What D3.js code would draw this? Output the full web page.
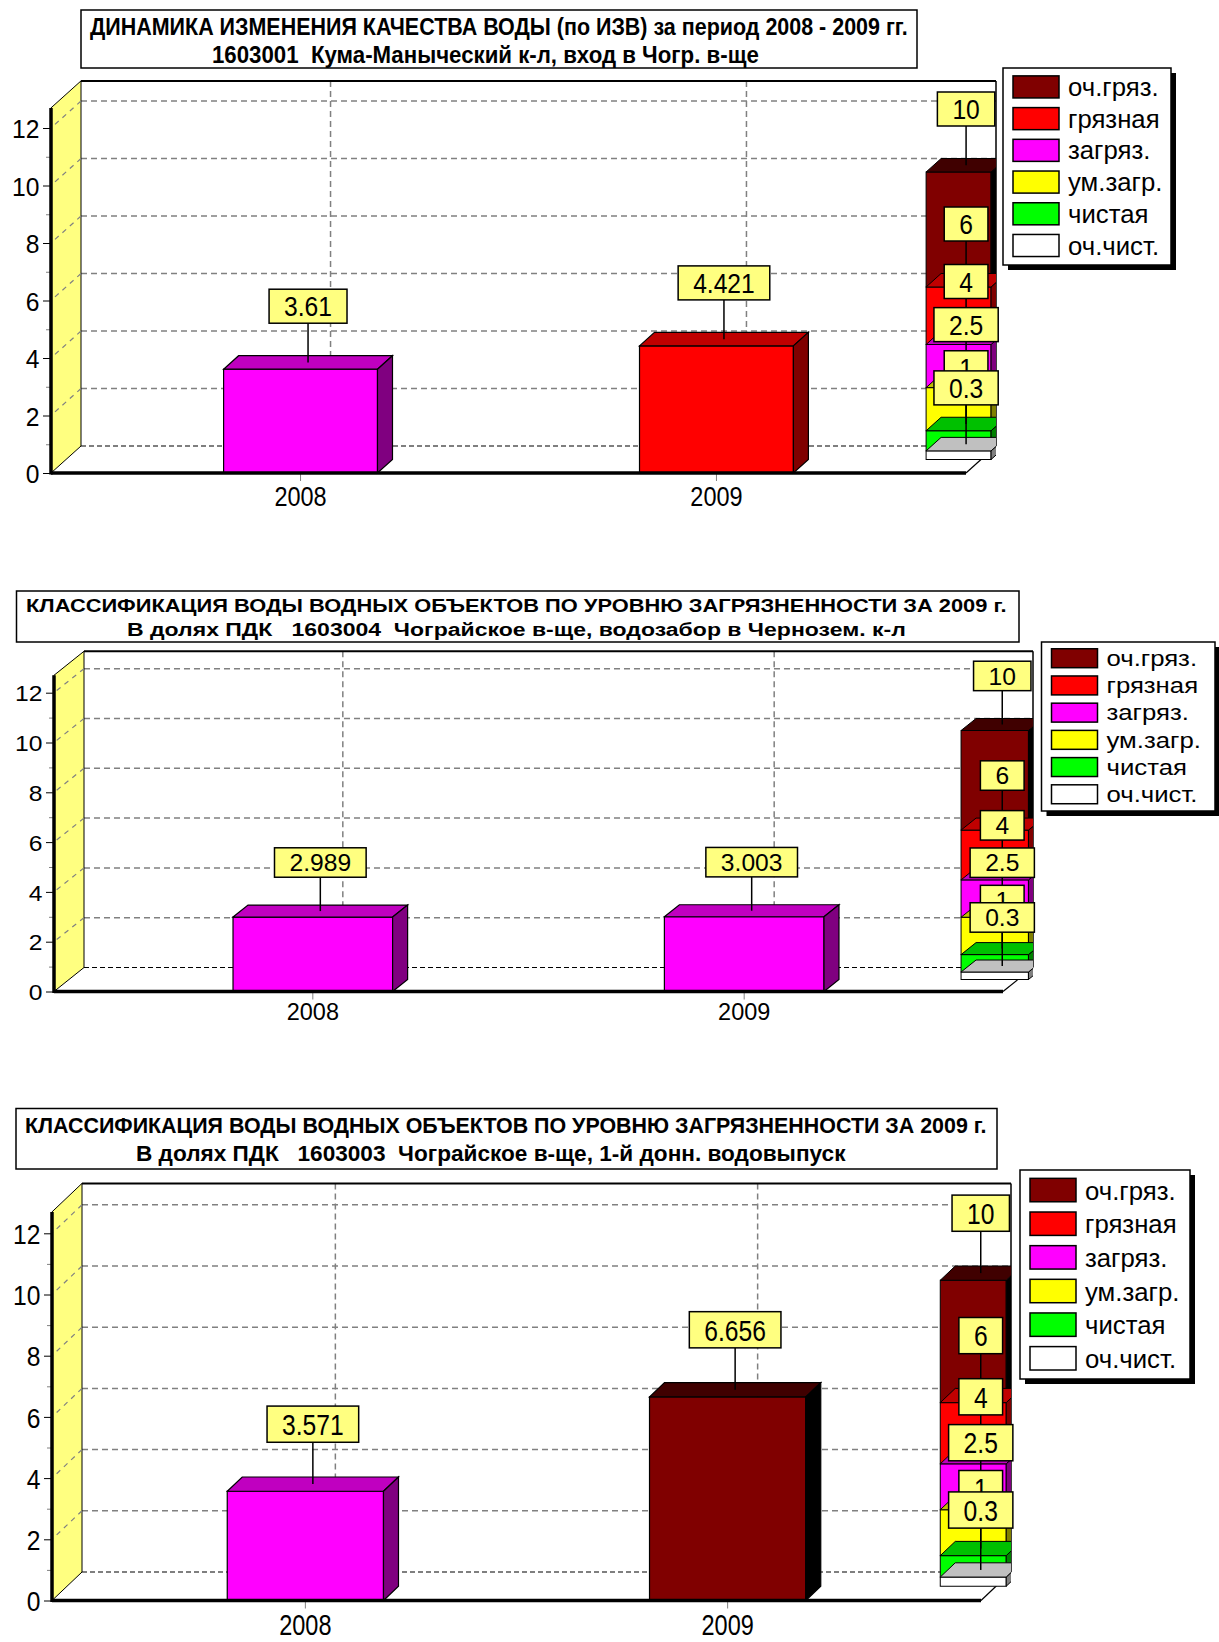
<!DOCTYPE html>
<html>
<head>
<meta charset="utf-8">
<script src="https://cdn.jsdelivr.net/npm/d3@7"></script>
<style>
  body { margin: 0; background: #fff; }
  svg { display: block; }
</style>
</head>
<body>
<svg id="chart" width="1219" height="1642"></svg>
<script>
// ---- data ----
const years = ["2008", "2009"];
const izv1603001 = [3.61, 4.421];
const izv1603004 = [2.989, 3.003];
const izv1603003 = [3.571, 6.656];

const classNames = ["оч.чист.", "чистая", "ум.загр.", "загряз.", "грязная", "оч.гряз."];
const classBounds = [0.3, 1, 2.5, 4, 6, 10];
const yTicks = [0, 2, 4, 6, 8, 10, 12];
const yMinorTicks = [1, 3, 5, 7, 9, 11];

const titles1603001 = [
  "ДИНАМИКА ИЗМЕНЕНИЯ КАЧЕСТВА ВОДЫ (по ИЗВ) за период 2008 - 2009 гг.",
  "1603001  Кума-Маныческий к-л, вход в Чогр. в-ще"
];
const titles1603004 = [
  "КЛАССИФИКАЦИЯ ВОДЫ ВОДНЫХ ОБЪЕКТОВ ПО УРОВНЮ ЗАГРЯЗНЕННОСТИ ЗА 2009 г.",
  "В долях ПДК   1603004  Чограйское в-ще, водозабор в Чернозем. к-л"
];
const titles1603003 = [
  "КЛАССИФИКАЦИЯ ВОДЫ ВОДНЫХ ОБЪЕКТОВ ПО УРОВНЮ ЗАГРЯЗНЕННОСТИ ЗА 2009 г.",
  "В долях ПДК   1603003  Чограйское в-ще, 1-й донн. водовыпуск"
];

// ---- styles ----
const FONT = "'Liberation Sans', Arial, sans-serif";
const palette = {
  front: ["#FFFFFF", "#00FF00", "#FFFF00", "#FF00FF", "#FF0000", "#800000"],
  top:   ["#C0C0C0", "#00C000", "#C0C000", "#C000C0", "#C00000", "#400000"],
  side:  ["#808080", "#008000", "#808000", "#800080", "#800000", "#000000"]
};
const GRID = "#808080";
const WALL = "#FFFF80";

// ---- layout of the three panels ----
const panels = [
  { values: izv1603001, titles: titles1603001,
    X0: 51, Y0: 473, k: 28.75, dx: 30, dy: 27, XR: 996,
    tbox: [81, 10, 917, 68], tlines: [[90, 818, 27], [212, 547, 55]], tfs: 23.5,
    legend: [1003, 68, 168, 197] },
  { values: izv1603004, titles: titles1603004,
    X0: 54, Y0: 991.5, k: 24.9, dx: 30, dy: 24, XR: 1033,
    tbox: [16.5, 591, 1019, 642], tlines: [[26, 981, 605], [127, 779, 629]], tfs: 18.5,
    legend: [1041.5, 642, 173.5, 169] },
  { values: izv1603003, titles: titles1603003,
    X0: 52, Y0: 1600.5, k: 30.6, dx: 30, dy: 28.5, XR: 1011,
    tbox: [16, 1108.5, 997, 1169], tlines: [[25, 962, 1125], [136, 710, 1153.5]], tfs: 21.5,
    legend: [1020, 1170, 170, 209] }
];

const svg = d3.select("#chart");

function addText(g, str, x, y, o) {
  return g.append("text").text(str)
    .attr("font-family", FONT)
    .attr("font-size", o.fs)
    .attr("font-weight", o.weight || "normal")
    .attr("text-anchor", o.anchor || "middle")
    .attr("dy", "0.36em")
    .attr("fill", "#000")
    .style("white-space", "pre")
    .attr("transform", `translate(${x},${y}) scale(${o.sx},${o.sy})`);
}

function poly(g, pts, fill, sw) {
  return g.append("polygon")
    .attr("points", pts.map(p => p.join(",")).join(" "))
    .attr("fill", fill).attr("stroke", "#000")
    .attr("stroke-width", sw == null ? 1 : sw)
    .attr("stroke-linejoin", "miter");
}

function line(g, x1, y1, x2, y2, stroke, sw, dash) {
  const l = g.append("line").attr("x1", x1).attr("y1", y1).attr("x2", x2).attr("y2", y2)
    .attr("stroke", stroke).attr("stroke-width", sw);
  if (dash) l.attr("stroke-dasharray", dash);
  return l;
}

// yellow callout with a leader line down to a point on a bar top
function callout(g, str, cx, yTarget, yBottom, ts) {
  const lg = g.append("g");
  line(lg, cx, yBottom, cx, yTarget, "#000", 1.5);
  const bh = 34 * ts;
  const rect = lg.append("rect").attr("fill", "#FFFF80").attr("stroke", "#000").attr("stroke-width", 1.5);
  const t = addText(lg, str, cx, yBottom - bh / 2, { fs: 28, sx: 0.88, sy: ts });
  const w = t.node().getComputedTextLength() * 0.88 + 30;
  rect.attr("x", cx - w / 2).attr("y", yBottom - bh).attr("width", w).attr("height", bh);
}

const classOf = v => d3.bisectLeft(classBounds, v);

function drawPanel(c, idx) {
  const g = svg.append("g");
  const ts = c.k / 28.75;
  const W = c.XR - c.dx - c.X0;
  const yMax = 12.7;
  const dx = c.dx, dy = c.dy, hx = dx / 2, hy = dy / 2;

  const x = d3.scaleBand().domain(years).range([c.X0, c.X0 + W])
    .paddingInner(0.63).paddingOuter(0.415);
  const y = d3.scaleLinear().domain([0, yMax]).range([c.Y0, c.Y0 - yMax * c.k]);
  const bx0 = c.X0 + dx;           // left edge of back wall
  const y0 = y(0), yTop = y(yMax);

  // title box
  const [tx0, ty0, tx1, ty1] = c.tbox;
  g.append("rect").attr("x", tx0).attr("y", ty0).attr("width", tx1 - tx0).attr("height", ty1 - ty0)
    .attr("fill", "#fff").attr("stroke", "#000").attr("stroke-width", 1.5);
  c.titles.forEach((s, i) => {
    const [lx, lw, ly] = c.tlines[i];
    const t = addText(g, s, lx, ly, { fs: c.tfs, sx: 1, sy: 1, anchor: "start", weight: "bold" });
    const w = t.node().getComputedTextLength();
    t.attr("transform", `translate(${lx},${ly}) scale(${lw / w},1)`);
  });

  // back wall and floor
  g.append("rect").attr("x", bx0).attr("y", yTop - dy).attr("width", c.XR - bx0).attr("height", y0 - yTop)
    .attr("fill", "#fff");
  poly(g, [[c.X0, y0], [c.X0 + W, y0], [c.XR, y0 - dy], [bx0, y0 - dy]], "#fff", 0);

  // back-wall grid
  yTicks.filter(v => v > 0).forEach(v => {
    line(g, bx0, y(v) - dy, c.XR, y(v) - dy, GRID, 1.5, "6,4");
  });
  years.forEach(yr => {
    const gx = x(yr) + x.bandwidth() / 2 + dx;
    line(g, gx, yTop - dy, gx, y0 - dy, GRID, 1.5, "6,4");
  });
  line(g, bx0, y0 - dy, c.XR, y0 - dy, "#000", 1.2, "5,3");

  // yellow side wall with its diagonal grid
  poly(g, [[c.X0, y0], [c.X0, yTop], [bx0, yTop - dy], [bx0, y0 - dy]], WALL, 1);
  yTicks.filter(v => v > 0).forEach(v => {
    line(g, bx0, y(v) - dy, c.X0, y(v), GRID, 1.2, "5,5");
  });

  // frame lines
  line(g, bx0, yTop - dy, c.XR, yTop - dy, "#000", 2);
  line(g, c.XR, yTop - dy, c.XR, y0 - dy, "#000", 1.5);
  line(g, c.X0 + W, y0, c.XR, y0 - dy, "#000", 1.2);

  // y axis
  const ax = g.append("g").attr("transform", `translate(${c.X0},0)`)
    .call(d3.axisLeft(y).tickValues(yTicks).tickSize(8).tickFormat(d3.format("d")));
  ax.select(".domain").remove();
  ax.selectAll(".tick line").attr("stroke", "#000");
  ax.selectAll(".tick text")
    .attr("x", null).attr("dy", "0.36em")
    .attr("font-family", FONT).attr("font-size", 26.5).attr("fill", "#000")
    .attr("transform", `translate(-11.5,0) scale(0.93,${ts})`);
  const axm = g.append("g").attr("transform", `translate(${c.X0},0)`)
    .call(d3.axisLeft(y).tickValues(yMinorTicks).tickSize(5).tickFormat(""));
  axm.select(".domain").remove();
  axm.selectAll(".tick line").attr("stroke", GRID);

  // x axis
  const axx = g.append("g").attr("transform", `translate(0,${y0})`)
    .call(d3.axisBottom(x).tickSize(8));
  axx.select(".domain").remove();
  axx.selectAll(".tick line").attr("stroke", GRID);
  axx.selectAll(".tick text")
    .attr("y", null).attr("dy", "0.36em")
    .attr("font-family", FONT).attr("font-size", 27).attr("fill", "#000")
    .attr("transform", `translate(0,${23 * ts}) scale(0.87,${ts})`);

  // class scale column in the back row
  const clipId = "clip" + idx;
  g.append("clipPath").attr("id", clipId).append("rect")
    .attr("x", 0).attr("y", 0).attr("width", c.XR).attr("height", 1642);
  const sg = g.append("g").attr("clip-path", `url(#${clipId})`);
  const sW = 0.071 * W, sL = c.X0 + 0.94 * W + hx;
  for (let i = classBounds.length - 1; i >= 0; i--) {
    const lo = i ? classBounds[i - 1] : 0, hi = classBounds[i];
    const yh = y(hi) - hy, yl = y(lo) - hy;
    sg.append("rect").attr("x", sL).attr("y", yh).attr("width", sW).attr("height", yl - yh)
      .attr("fill", palette.front[i]).attr("stroke", "#000").attr("stroke-width", 1);
    poly(sg, [[sL + sW, yh], [sL + sW + hx, yh - hy], [sL + sW + hx, yl - hy], [sL + sW, yl]], palette.side[i]);
    poly(sg, [[sL, yh], [sL + hx, yh - hy], [sL + sW + hx, yh - hy], [sL + sW, yh]], palette.top[i]);
  }

  // bars, coloured by water-quality class
  years.forEach((yr, j) => {
    const v = c.values[j], ci = classOf(v);
    const xa = x(yr), bw = x.bandwidth(), yv = y(v);
    g.append("rect").attr("x", xa).attr("y", yv).attr("width", bw).attr("height", y0 - yv)
      .attr("fill", palette.front[ci]).attr("stroke", "#000").attr("stroke-width", 1.2);
    poly(g, [[xa, yv], [xa + hx, yv - hy], [xa + bw + hx, yv - hy], [xa + bw, yv]], palette.top[ci], 1.2);
    poly(g, [[xa + bw, yv], [xa + bw + hx, yv - hy], [xa + bw + hx, y0 - hy], [xa + bw, y0]], palette.side[ci], 1.2);
  });

  // thick front floor edge and value axis
  line(g, c.X0, y0, c.X0 + W, y0, "#000", 3.5);
  line(g, c.X0, y0 + 1.5, c.X0, yTop, "#000", 3.5);

  // value callouts
  years.forEach((yr, j) => {
    const v = c.values[j];
    const cx = x(yr) + x.bandwidth() / 2 + hx / 2;
    callout(g, String(v), cx, y(v) - hy / 2, y(v) - 1.6 * c.k, ts);
  });
  const scx = sL + sW / 2 + hx / 2;
  for (let i = classBounds.length - 1; i >= 0; i--) {
    const hi = classBounds[i];
    const yf = y(hi) - hy;
    callout(g, String(hi), scx, yf - hy / 2, yf - 1.6 * c.k, ts);
  }

  // legend
  const [lx, ly, lw, lh] = c.legend;
  g.append("rect").attr("x", lx + 5).attr("y", ly + 5).attr("width", lw).attr("height", lh).attr("fill", "#000");
  g.append("rect").attr("x", lx).attr("y", ly).attr("width", lw).attr("height", lh)
    .attr("fill", "#fff").attr("stroke", "#000").attr("stroke-width", 1.5);
  const order = d3.range(classNames.length).reverse();
  order.forEach((ci, r) => {
    const cy = ly + 0.096 * lh + r * 0.161 * lh;
    const sh = 0.112 * lh;
    g.append("rect").attr("x", lx + 10).attr("y", cy - sh / 2).attr("width", 46).attr("height", sh)
      .attr("fill", palette.front[ci]).attr("stroke", "#000").attr("stroke-width", 1.5);
    addText(g, classNames[ci], lx + 65, cy, { fs: 25, sx: 1.03, sy: ts, anchor: "start" });
  });
}

panels.forEach(drawPanel);
</script>
</body>
</html>
